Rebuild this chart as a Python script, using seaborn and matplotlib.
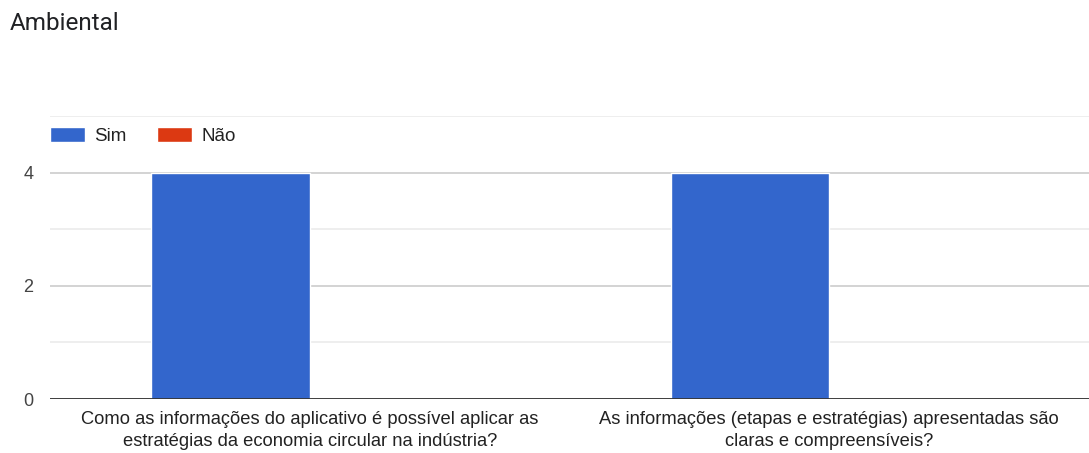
import matplotlib
matplotlib.use("Agg")
import matplotlib.pyplot as plt
import seaborn as sns
import pandas as pd
from matplotlib.patches import Patch

title = "Ambiental"
categories = [
    "Como as informações do aplicativo é possível aplicar as\nestratégias da economia circular na indústria?",
    "As informações (etapas e estratégias) apresentadas são\nclaras e compreensíveis?",
]
series_names = ["Sim", "Não"]
sim_values = [4, 4]
nao_values = [0, 0]
colors = ["#3366cc", "#dc3912"]
y_major = [0, 2, 4]
y_minor = [1, 3, 5]

rows = []
for c, s, n in zip(categories, sim_values, nao_values):
    rows.append({"cat": c, "serie": series_names[0], "val": s})
    rows.append({"cat": c, "serie": series_names[1], "val": n})
df = pd.DataFrame(rows)

sns.set_theme(style="white")
plt.rcParams["font.family"] = ["Liberation Sans", "DejaVu Sans"]

fig = plt.figure(figsize=(10.89, 4.53), dpi=100)
ax = fig.add_axes([50 / 1089, (453 - 399) / 453, 1 - 50 / 1089, (399 - 116) / 453])

sns.barplot(data=df, x="cat", y="val", hue="serie", palette=colors,
            width=0.61, ax=ax, saturation=1, legend=False, zorder=3)

ax.set_xlim(-0.5, 1.5)
ax.set_ylim(0, 5)
ax.set_yticks(y_major)
ax.set_yticks(y_minor, minor=True)
ax.yaxis.grid(True, which="major", color="#cccccc", linewidth=1.2, zorder=0)
ax.yaxis.grid(True, which="minor", color="#ebebeb", linewidth=1.2, zorder=0)
ax.axhline(0, color="#333333", linewidth=1.3, zorder=4)
for sp in ax.spines.values():
    sp.set_visible(False)
ax.tick_params(axis="y", length=0, pad=12, labelsize=13, labelcolor="#444444", which="both")
ax.tick_params(axis="x", length=0, pad=9, labelsize=13.2, labelcolor="#222222")
for t in ax.get_xticklabels():
    t.set_ha("center")
    t.set_linespacing(1.32)
ax.set_xlabel("")
ax.set_ylabel("")

handles = [Patch(facecolor=colors[0], label=series_names[0]),
           Patch(facecolor=colors[1], label=series_names[1])]
leg = ax.legend(handles=handles, loc="center left", bbox_to_anchor=(0.0, 0.929),
                ncol=2, frameon=False, fontsize=13.5, handlelength=1.87, handleheight=0.85,
                handletextpad=0.48, columnspacing=1.65, borderaxespad=0, borderpad=0)
for t in leg.get_texts():
    t.set_color("#222222")

fig.text(10 / 1089, 1 - 23 / 453, title, fontsize=17.5, color="#202124",
         family=["Roboto", "DejaVu Sans"], va="center", ha="left")

fig.savefig("out.png", dpi=100, facecolor="white")
